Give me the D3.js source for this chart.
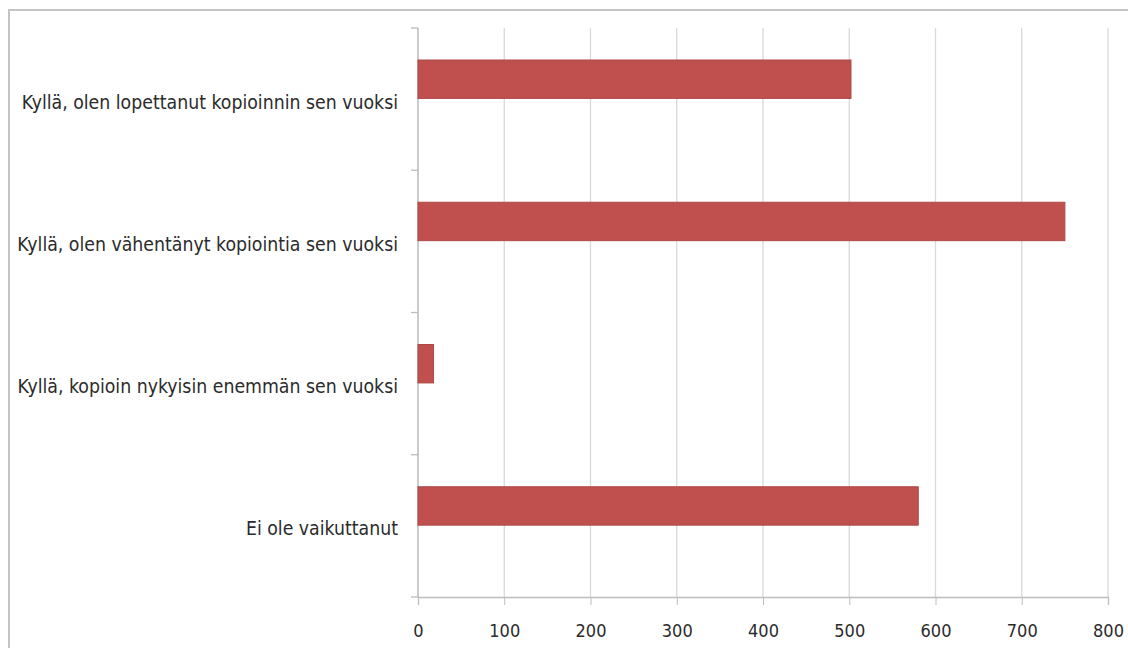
<!DOCTYPE html>
<html>
<head>
<meta charset="utf-8">
<script src="https://cdn.jsdelivr.net/npm/d3@7"></script>
<style>
  html, body { margin: 0; padding: 0; background: #fff; }
  svg { display: block; }
  text { font-family: "DejaVu Sans Condensed", "Liberation Sans Narrow", "Open Sans", sans-serif; fill: #2b2b2b; }
</style>
</head>
<body>
<svg id="chart" width="1128" height="648"></svg>
<script>
// Survey answers and counts
const categories = [
  "Kyllä, olen lopettanut kopioinnin sen vuoksi",
  "Kyllä, olen vähentänyt kopiointia sen vuoksi",
  "Kyllä, kopioin nykyisin enemmän sen vuoksi",
  "Ei ole vaikuttanut"
];
const counts = [502, 750, 18, 580];
const xTicks = [0, 100, 200, 300, 400, 500, 600, 700, 800];

const svg = d3.select("#chart");
const plot = { left: 418, right: 1108, top: 28, bottom: 597 };

// outer frame of the chart object
svg.append("rect")
  .attr("x", 9).attr("y", 10)
  .attr("width", 1140).attr("height", 660)
  .attr("fill", "none").attr("stroke", "#c4c4c4").attr("stroke-width", 2);

const x = d3.scaleLinear().domain([0, 800]).range([plot.left, plot.right]);
const y = d3.scaleBand().domain(categories).range([plot.top, plot.bottom]).paddingInner(0).paddingOuter(0);

// vertical gridlines
svg.append("g").selectAll("line").data(xTicks).join("line")
  .attr("x1", d => x(d)).attr("x2", d => x(d))
  .attr("y1", plot.top).attr("y2", plot.bottom)
  .attr("stroke", "#d9d9d9").attr("stroke-width", 1.3);

// horizontal axis
const xAxis = svg.append("g").attr("transform", `translate(0,${plot.bottom})`)
  .call(d3.axisBottom(x).tickValues(xTicks).tickSize(8).tickPadding(19).tickFormat(d3.format("d")));
xAxis.select(".domain").attr("stroke", "#bdbdbd").attr("stroke-width", 1.3);
xAxis.selectAll(".tick line").attr("stroke", "#bdbdbd");
xAxis.selectAll("text").attr("font-size", 18).attr("fill", "#2b2b2b")
  .style("font-family", "\"DejaVu Sans Condensed\", sans-serif");

// vertical axis: category boundary ticks and labels
const bounds = categories.map(c => y(c)).concat([plot.bottom]);
svg.append("g").selectAll("line").data(bounds).join("line")
  .attr("x1", plot.left - 7).attr("x2", plot.left)
  .attr("y1", d => d).attr("y2", d => d)
  .attr("stroke", "#bdbdbd").attr("stroke-width", 1.3);
svg.append("line")
  .attr("x1", plot.left).attr("x2", plot.left)
  .attr("y1", plot.top).attr("y2", plot.bottom)
  .attr("stroke", "#bdbdbd").attr("stroke-width", 1.3);

svg.append("g").selectAll("text").data(categories).join("text")
  .attr("x", 398)
  .attr("y", d => y(d) + y.bandwidth() / 2 + 4)
  .attr("text-anchor", "end")
  .attr("dominant-baseline", "middle")
  .attr("font-size", 19.3)
  .text(d => d);

// bars
svg.append("g").selectAll("rect").data(categories).join("rect")
  .attr("x", x(0))
  .attr("y", d => y(d) + y.bandwidth() * 0.225)
  .attr("width", (d, i) => x(counts[i]) - x(0))
  .attr("height", y.bandwidth() * 0.27)
  .attr("fill", "#c0504d")
  .attr("stroke", "#ad4845").attr("stroke-width", 1);
</script>
</body>
</html>
